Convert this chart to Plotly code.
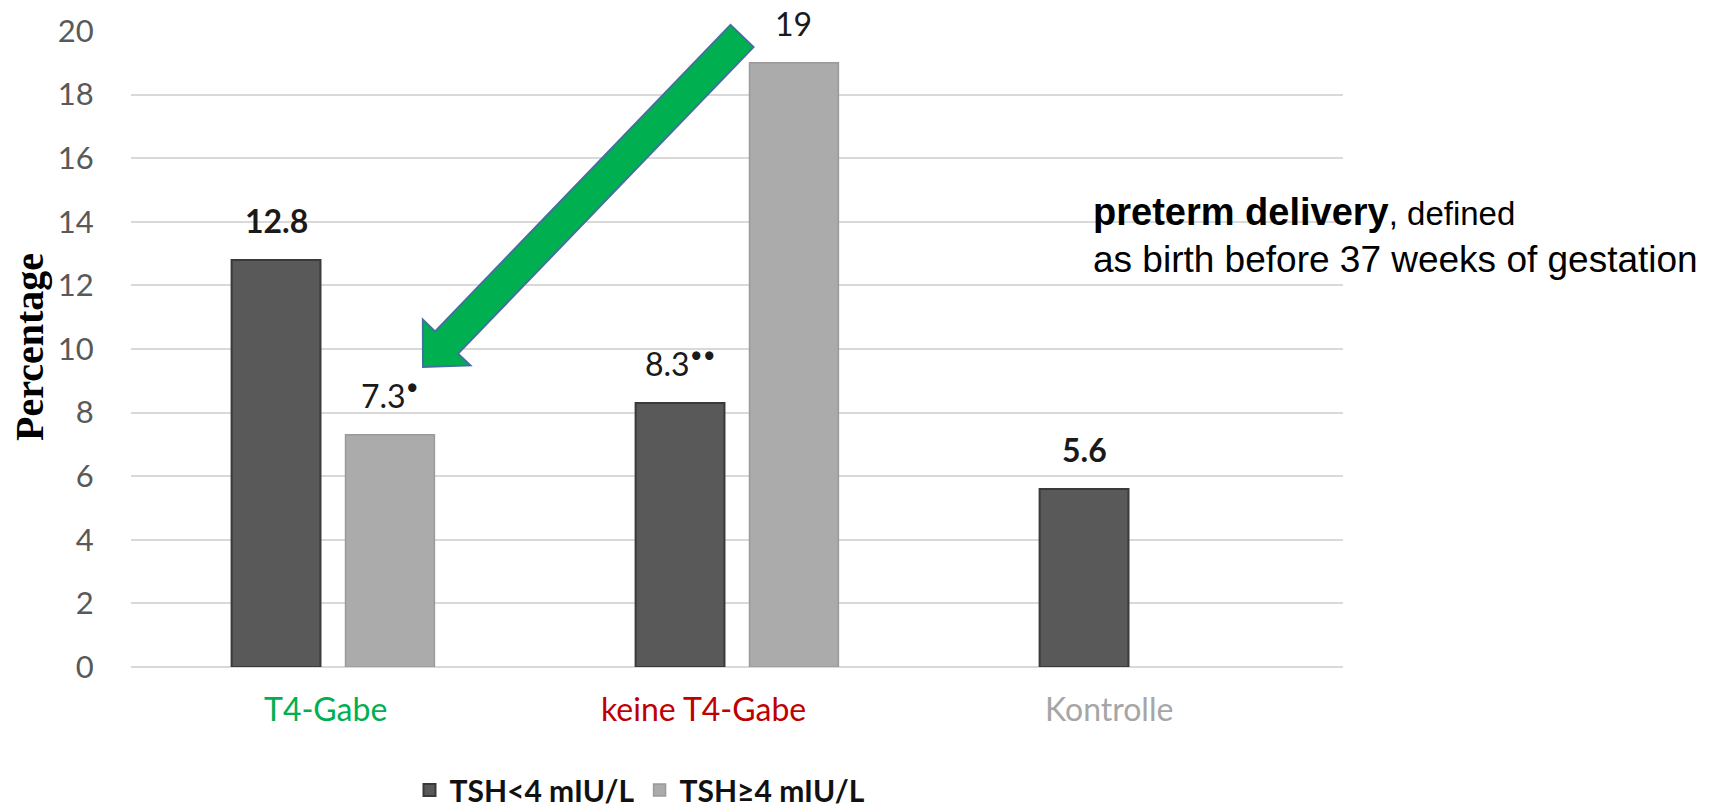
import math
import plotly.graph_objects as go

# ---- data -------------------------------------------------------------
groups = ["T4-Gabe", "keine T4-Gabe", "Kontrolle"]
group_colors = ["#00B050", "#C00000", "#A6A6A6"]
series_names = ["TSH<4 mIU/L", "TSH≥4 mIU/L"]
tsh_low = [12.8, 8.3, 5.6]
tsh_high = [7.3, 19.0, None]
label_marks_low = ["", "<sup>••</sup>", ""]
label_marks_high = ["<sup>•</sup>", "", ""]
label_bold_low = [True, False, True]
label_bold_high = [False, False, False]
y_ticks = [0, 2, 4, 6, 8, 10, 12, 14, 16, 18, 20]

# ---- layout geometry --------------------------------------------------
W, H = 1723, 811
M_L, M_R, M_T, M_B = 131, 380, 31, 144
PLOT_W = W - M_L - M_R
PLOT_H = H - M_T - M_B
BARGAP = 0.436
BARGROUPGAP = 0.22
SLOT = (1 - BARGAP) / 2          # width of one series slot, in category units
OFFSETS = [-SLOT / 2, SLOT / 2]  # centre of each series inside a group


def px_to_paper(px, py):
    return (px - M_L) / PLOT_W, (H - M_B - py) / PLOT_H


DARK = "#595959"
LIGHT = "#ABABAB"

fig = go.Figure()
fig.add_trace(go.Bar(
    name=series_names[0], x=groups, y=tsh_low,
    marker=dict(color=DARK, line=dict(color="#3A3A3A", width=2)),
))
fig.add_trace(go.Bar(
    name=series_names[1], x=groups, y=tsh_high,
    marker=dict(color=LIGHT, line=dict(color="#9A9A9A", width=1.5)),
))

# value labels above the bars
annotations = []
for series, marks, bolds, off in (
    (tsh_low, label_marks_low, label_bold_low, OFFSETS[0]),
    (tsh_high, label_marks_high, label_bold_high, OFFSETS[1]),
):
    for i, v in enumerate(series):
        if v is None:
            continue
        txt = f"{v:g}"
        txt = f"<b>{txt}</b>" if bolds[i] else txt
        annotations.append(dict(
            x=i + off, y=v, xref="x", yref="y", text=txt + marks[i],
            showarrow=False, yanchor="bottom", yshift=18,
            font=dict(family="Lato", size=32, color="#1A1A1A"),
        ))

# coloured category labels below the axis
label_shift = [-8, -34, -32]
for i, (g, c) in enumerate(zip(groups, group_colors)):
    annotations.append(dict(
        x=i, y=px_to_paper(0, 708)[1], xref="x", yref="paper", text=g,
        showarrow=False, xshift=label_shift[i], yanchor="middle",
        font=dict(family="Lato", size=32, color=c),
    ))

# explanatory text on the right
x1, y1 = px_to_paper(1091, 212)
x2, y2 = px_to_paper(1091, 259)
annotations.append(dict(
    x=x1, y=y1, xref="paper", yref="paper", xanchor="left", yanchor="middle",
    showarrow=False,
    text="<b>preterm delivery</b><span style='font-size:33px'>, defined</span>",
    font=dict(family="Liberation Sans, Arial", size=38, color="#000000"),
))
annotations.append(dict(
    x=x2, y=y2, xref="paper", yref="paper", xanchor="left", yanchor="middle",
    showarrow=False, text="as birth before 37 weeks of gestation",
    font=dict(family="Liberation Sans, Arial", size=37, color="#000000"),
))

# y axis title
tx, ty = px_to_paper(29, 347)
annotations.append(dict(
    x=tx, y=ty, xref="paper", yref="paper", textangle=-90,
    xanchor="center", yanchor="middle",
    showarrow=False, text="<b>Percentage</b>",
    font=dict(family="Liberation Serif", size=40, color="#000000"),
))

# green block arrow pointing at the treated TSH>=4 bar
tail = (742, 36)
tip = (423, 367)
shaft_hw, head_hw, head_len = 16, 33, 34
dx, dy = tip[0] - tail[0], tip[1] - tail[1]
L = math.hypot(dx, dy)
ux, uy = dx / L, dy / L
nx, ny = -uy, ux
bx, by = tip[0] - ux * head_len, tip[1] - uy * head_len
pts_px = [
    (tail[0] + nx * shaft_hw, tail[1] + ny * shaft_hw),
    (bx + nx * shaft_hw, by + ny * shaft_hw),
    (bx + nx * head_hw, by + ny * head_hw),
    tip,
    (bx - nx * head_hw, by - ny * head_hw),
    (bx - nx * shaft_hw, by - ny * shaft_hw),
    (tail[0] - nx * shaft_hw, tail[1] - ny * shaft_hw),
]
pts = [px_to_paper(px, py) for px, py in pts_px]
path = "M " + " L ".join(f"{a:.5f},{b:.5f}" for a, b in pts) + " Z"

fig.update_layout(
    width=W, height=H,
    margin=dict(l=M_L, r=M_R, t=M_T, b=M_B, autoexpand=False),
    paper_bgcolor="white", plot_bgcolor="white",
    barmode="group", bargap=BARGAP, bargroupgap=BARGROUPGAP,
    showlegend=True,
    legend=dict(
        orientation="h", x=px_to_paper(640, 0)[0], y=px_to_paper(0, 790)[1],
        xanchor="center", yanchor="middle",
        font=dict(family="Lato", size=30, color="#111111", weight="bold"),
        itemclick=False, itemdoubleclick=False,
    ),
    xaxis=dict(
        type="category", range=[-0.5, 2.5], showticklabels=False,
        showgrid=False, zeroline=False, showline=False, ticks="",
    ),
    yaxis=dict(
        range=[0, 20], tickvals=y_ticks, showgrid=True,
        gridcolor="#D9D9D9", gridwidth=2, zeroline=True,
        zerolinecolor="#D9D9D9", zerolinewidth=2, showline=False,
        ticks="outside", ticklen=30, tickcolor="rgba(0,0,0,0)",
        tickfont=dict(family="Lato", size=31, color="#595959"),
    ),
    annotations=annotations,
    shapes=[dict(
        type="path", xref="paper", yref="paper", path=path,
        fillcolor="#00B050", line=dict(color="#41719C", width=2), layer="above",
    )],
)
for tr in fig.data:
    tr.cliponaxis = False

fig.write_html("out.html")
